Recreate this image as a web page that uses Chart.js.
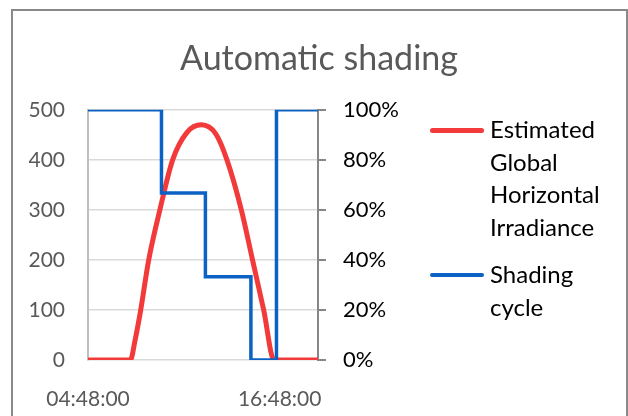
<!DOCTYPE html>
<html lang="en">
<head>
<meta charset="UTF-8" />
<title>Automatic shading</title>
<script src="https://cdn.jsdelivr.net/npm/chart.js"></script>
<style>
  body { margin: 0; background: #fff; font-family: Lato, sans-serif; overflow: hidden; }
  .wrap { position: relative; width: 628px; height: 416px; }
  .frame { position: absolute; left: 11px; top: 9px; width: 617px; height: 430px; border: 2px solid #898989; box-sizing: border-box; }
  canvas { position: absolute; left: 0; top: 0; }
  .item { position: absolute; left: 430px; }
  .item .swatch { position: absolute; left: 0; width: 54px; border-radius: 3px; }
  .item .label { position: absolute; left: 60px; width: 130px; font-size: 24px; line-height: 32.7px; color: #000; }
</style>
</head>
<body>
<div class="wrap">
  <div class="frame"></div>
  <canvas id="chart" width="628" height="416"></canvas>
  <div id="legend"></div>
</div>

<script>
  // data (x in hours of the day)
  const ghiHours  = [4.8, 7.45, 7.75, 8.1, 8.6, 9.3, 10.1, 11.0, 11.9, 12.8, 13.5, 14.4, 15.1, 15.8, 16.45, 19.2];
  const ghiValues = [0,   0,    40,   100, 200, 300, 400,  455,  470,  452,  400,  300,  200,  100,  0,     0];

  const shadeHours  = [4.8, 9.4,  12.15, 15.0, 16.6, 19.2];
  const shadePct    = [100, 66.7, 33.3,  0,    100,  100];

  const xTickHours = [4.8, 16.8];

  function toPoints(xs, ys) {
    return xs.map((x, i) => ({ x: x, y: ys[i] }));
  }

  function fmtTime(h) {
    const s = Math.round(h * 3600);
    const p = n => String(n).padStart(2, '0');
    return p(Math.floor(s / 3600)) + ':' + p(Math.floor(s % 3600 / 60)) + ':' + p(s % 60);
  }

  const chart = new Chart(document.getElementById('chart'), {
    type: 'line',
    data: {
      datasets: [{
        label: 'Estimated Global Horizontal Irradiance',
        data: toPoints(ghiHours, ghiValues),
        borderColor: '#F23A3A',
        borderWidth: 5,
        cubicInterpolationMode: 'monotone',
        pointRadius: 0,
        yAxisID: 'y',
        order: 2
      }, {
        label: 'Shading cycle',
        data: toPoints(shadeHours, shadePct),
        borderColor: '#0B62C4',
        borderWidth: 3.5,
        stepped: 'before',
        pointRadius: 0,
        yAxisID: 'y1',
        order: 1
      }]
    },
    options: {
      responsive: false,
      animation: false,
      layout: { padding: { left: 10, right: 0, top: 0, bottom: 0 } },
      plugins: {
        legend: { display: false },
        tooltip: { enabled: false },
        title: {
          display: true,
          text: 'Automatic shading',
          color: '#595959',
          font: { family: 'Lato', size: 34, weight: 'normal', lineHeight: 1.2 },
          padding: { top: 39, bottom: 30 }
        }
      },
      scales: {
        x: {
          type: 'linear',
          min: 4.8,
          max: 19.2,
          afterBuildTicks: scale => { scale.ticks = xTickHours.map(v => ({ value: v })); },
          afterFit: scale => { scale.height = 56; },
          grid: { display: false },
          border: { display: false },
          ticks: {
            color: '#595959',
            font: { family: 'Lato', size: 21 },
            padding: 19,
            maxRotation: 0,
            autoSkip: false,
            callback: v => fmtTime(v)
          }
        },
        y: {
          position: 'left',
          min: 0,
          max: 500,
          afterFit: scale => { scale.width = 78; },
          grid: { color: '#D9D9D9', lineWidth: 1.5, drawTicks: false },
          border: { color: '#BFBFBF', width: 2 },
          ticks: {
            stepSize: 100,
            color: '#595959',
            font: { family: 'Lato', size: 21 },
            padding: 23
          }
        },
        y1: {
          position: 'right',
          min: 0,
          max: 100,
          afterFit: scale => { scale.width = 310; },
          grid: { drawOnChartArea: false, color: '#868686', lineWidth: 2, tickLength: 8 },
          border: { color: '#868686', width: 2 },
          ticks: {
            stepSize: 20,
            color: '#000',
            font: { family: 'Lato', size: 22 },
            padding: 17,
            callback: v => v + '%'
          }
        }
      }
    }
  });

  // legend on the right, one wrapped label per dataset
  const legendTops = [113, 258];
  const legend = document.getElementById('legend');
  chart.data.datasets.forEach((ds, i) => {
    const item = document.createElement('div');
    item.className = 'item';
    item.style.top = legendTops[i] + 'px';
    const sw = document.createElement('div');
    sw.className = 'swatch';
    sw.style.background = ds.borderColor;
    sw.style.height = ds.borderWidth + 'px';
    sw.style.top = (17 - ds.borderWidth / 2) + 'px';
    const lab = document.createElement('div');
    lab.className = 'label';
    lab.textContent = ds.label;
    item.appendChild(sw);
    item.appendChild(lab);
    legend.appendChild(item);
  });
</script>
</body>
</html>
